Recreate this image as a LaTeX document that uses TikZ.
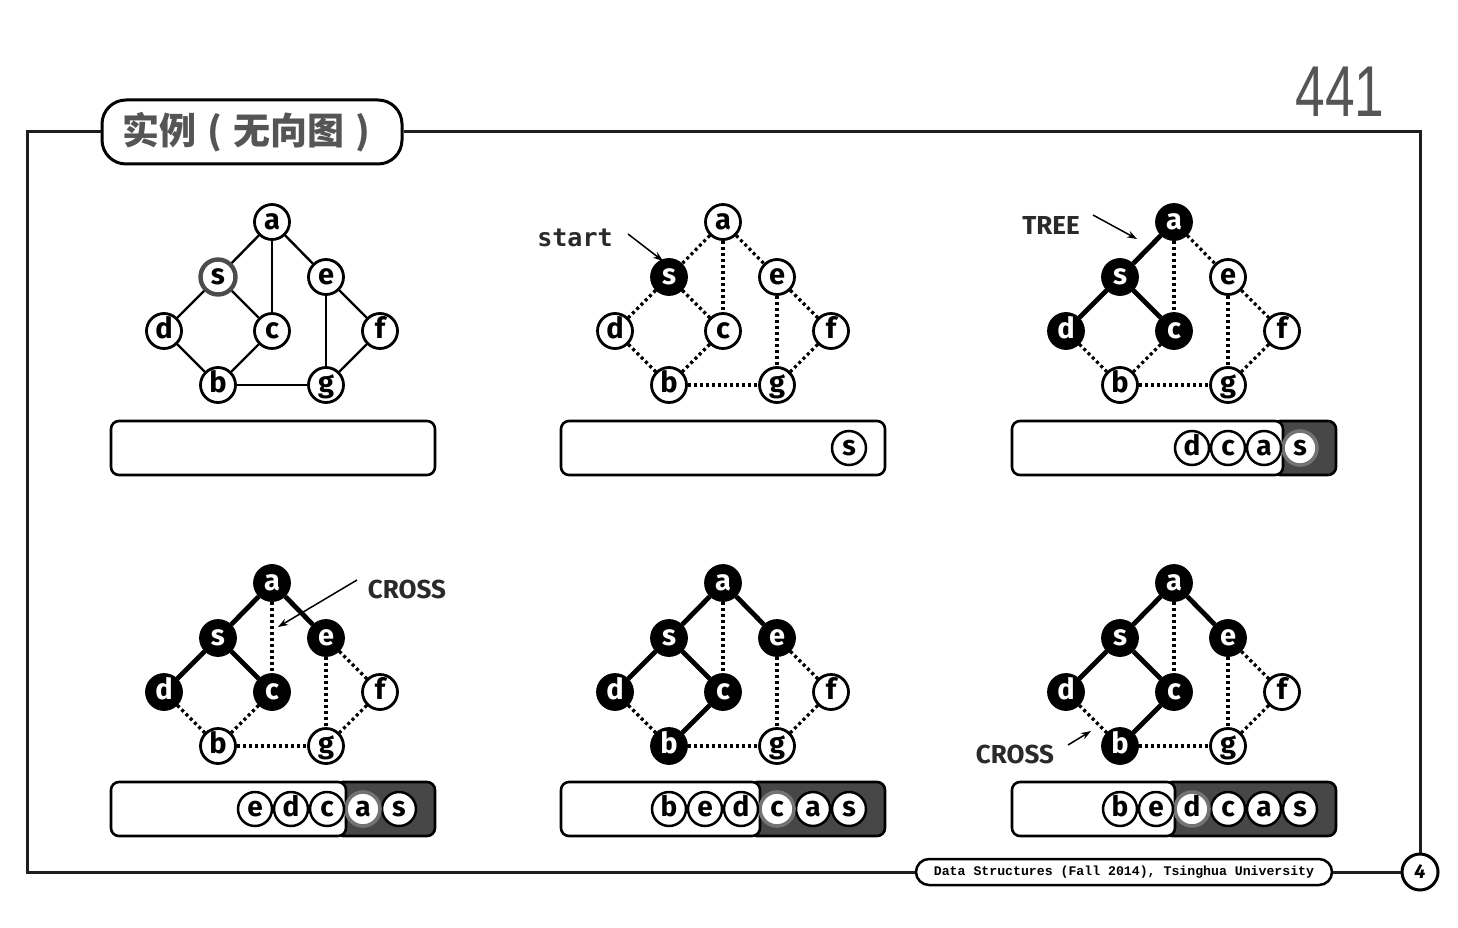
\documentclass[tikz,border=0pt]{standalone}
\usepackage{fontspec}
\setmainfont{Fira Sans}
\newfontfamily\lblfont{Fira Sans}
\newfontfamily\startfont{DejaVu Sans Mono}
\newfontfamily\footfont{Liberation Mono}
\newfontfamily\cjkfont{Noto Sans CJK SC}
\newfontfamily\numfont{Liberation Sans}
\usetikzlibrary{arrows.meta}
\definecolor{dkfill}{HTML}{474747}
\definecolor{titlegray}{HTML}{555555}
\definecolor{framec}{HTML}{1E1E1E}
\definecolor{lblc}{HTML}{2A2A2A}

\tikzset{
 vx/.style={circle, draw=black, line width=2.8pt, minimum size=35pt, inner sep=0pt,
   font=\fontsize{29}{29}\selectfont\bfseries, text height=15pt, text depth=0pt},
 wn/.style={vx, fill=white, text=black},
 bn/.style={vx, fill=black, text=white},
 gn/.style={vx, fill=white, text=black, draw=black!70, line width=4.4pt},
 sol/.style={line width=2.4pt, draw=black},
 trd/.style={line width=4.8pt, draw=black},
 dtd/.style={line width=3.2pt, draw=black, dash pattern=on 3pt off 3pt},
 va/.style=wn, vs/.style=wn, ve/.style=wn, vd/.style=wn,
 vc/.style=wn, vf/.style=wn, vb/.style=wn, vg/.style=wn,
 eas/.style=sol, eac/.style=sol, eae/.style=sol, esd/.style=sol, esc/.style=sol,
 edb/.style=sol, ecb/.style=sol, ebg/.style=sol, eeg/.style=sol, eef/.style=sol, efg/.style=sol,
 alldot/.style={eas/.style=dtd, eac/.style=dtd, eae/.style=dtd, esd/.style=dtd, esc/.style=dtd,
   edb/.style=dtd, ecb/.style=dtd, ebg/.style=dtd, eeg/.style=dtd, eef/.style=dtd, efg/.style=dtd},
 se/.style={circle, draw=black, line width=2.5pt, fill=white, text=black, minimum size=34pt,
   inner sep=0pt, font=\fontsize{28}{28}\selectfont\bfseries, text height=14.5pt, text depth=0pt},
 setop/.style={se, draw=black!55, line width=3.6pt},
 wbox/.style={draw=black, line width=2.6pt, fill=white, rounded corners=8pt},
 dbox/.style={draw=black, line width=2.6pt, fill=dkfill, rounded corners=8pt},
 frame/.style={draw=framec, line width=3pt},
 arr/.style={draw=black, line width=1.5pt, -{Stealth[length=10pt,width=7pt]}},
 lbl/.style={text=lblc, font=\lblfont\bfseries\fontsize{26}{26}\selectfont, inner sep=0pt},
}

\newcommand\graphbody{%
 \node[va] (a) at (272,222) {a};
 \node[vs] (s) at (218,277) {s};
 \node[ve] (e) at (326,277) {e};
 \node[vd] (d) at (164,331) {d};
 \node[vc] (c) at (272,331) {c};
 \node[vf] (f) at (380,331) {f};
 \node[vb] (b) at (218,385) {b};
 \node[vg] (g) at (326,385) {g};
 \draw[eas] (a) -- (s);
 \draw[eac] (a) -- (c);
 \draw[eae] (a) -- (e);
 \draw[esd] (s) -- (d);
 \draw[esc] (s) -- (c);
 \draw[edb] (d) -- (b);
 \draw[ecb] (c) -- (b);
 \draw[ebg] (b) -- (g);
 \draw[eeg] (e) -- (g);
 \draw[eef] (e) -- (f);
 \draw[efg] (f) -- (g);
}

\begin{document}
\begin{tikzpicture}[x=1pt,y=-1pt]
\useasboundingbox (0,0) rectangle (1458,928);

% title, footer, page number
\node[draw=black, line width=3pt, fill=white, rounded corners=24pt, minimum width=300pt,
  minimum height=64pt, inner sep=0pt, text=titlegray, font=\cjkfont\bfseries\fontsize{37}{37}\selectfont]
  (title) at (252,132) {实例\makebox[1em]{(}无向图\makebox[1em]{)}};
\node[draw=black, line width=2.5pt, fill=white, rounded corners=13pt, minimum width=416pt,
  minimum height=26pt, inner sep=0pt, text=black, font=\footfont\bfseries\fontsize{13.2}{13}\selectfont]
  (foot) at (1124,872) {Data Structures (Fall 2014), Tsinghua University};
\node[circle, draw=black, line width=3pt, fill=white, minimum size=36pt, inner sep=0pt,
  font=\lblfont\bfseries\itshape\fontsize{20}{20}\selectfont] (pg) at (1420,872) {4};
\node[text=titlegray, font=\numfont\fontsize{72}{72}\selectfont, inner sep=0pt]
  (num) at (1340,92) {\scalebox{0.74}[1]{441}};

\coordinate (fl1) at (27,132);
\coordinate (fl2) at (27,872);
\coordinate (fr1) at (1420,132);
\draw[frame] (title.west) -- (fl1) -- (fl2) -- (foot.west);
\draw[frame] (foot.east) -- (pg.west);
\draw[frame] (title.east) -- (fr1) -- (pg.north);

% graphs
\begin{scope}[name prefix=p1-, vs/.style=gn]
 \graphbody
\end{scope}
\begin{scope}[shift={(451,0)}, name prefix=p2-, alldot, vs/.style=bn]
 \graphbody
\end{scope}
\begin{scope}[shift={(902,0)}, name prefix=p3-, alldot,
  va/.style=bn, vs/.style=bn, vd/.style=bn, vc/.style=bn,
  eas/.style=trd, esd/.style=trd, esc/.style=trd]
 \graphbody
\end{scope}
\begin{scope}[shift={(0,361)}, name prefix=p4-, alldot,
  va/.style=bn, vs/.style=bn, ve/.style=bn, vd/.style=bn, vc/.style=bn,
  eas/.style=trd, eae/.style=trd, esd/.style=trd, esc/.style=trd]
 \graphbody
\end{scope}
\begin{scope}[shift={(451,361)}, name prefix=p5-, alldot,
  va/.style=bn, vs/.style=bn, ve/.style=bn, vd/.style=bn, vc/.style=bn, vb/.style=bn,
  eas/.style=trd, eae/.style=trd, esd/.style=trd, esc/.style=trd, ecb/.style=trd]
 \graphbody
\end{scope}
\begin{scope}[shift={(902,361)}, name prefix=p6-, alldot,
  va/.style=bn, vs/.style=bn, ve/.style=bn, vd/.style=bn, vc/.style=bn, vb/.style=bn,
  eas/.style=trd, eae/.style=trd, esd/.style=trd, esc/.style=trd, ecb/.style=trd]
 \graphbody
\end{scope}

% stacks
\draw[wbox] (111,421) rectangle (435,475);

\draw[wbox] (561,421) rectangle (885,475);
\node[se] (k2s) at (849,448) {s};

\draw[dbox] (1272,421) rectangle (1336,475);
\draw[wbox] (1012,421) rectangle (1283,475);
\node[setop] (k3s) at (1300,448) {s};
\node[se] (k3a) at (1264,448) {a};
\node[se] (k3c) at (1228,448) {c};
\node[se] (k3d) at (1192,448) {d};

\draw[dbox] (335,782) rectangle (435,836);
\draw[wbox] (111,782) rectangle (346,836);
\node[se] (k4s) at (399,809) {s};
\node[setop] (k4a) at (363,809) {a};
\node[se] (k4c) at (327,809) {c};
\node[se] (k4d) at (291,809) {d};
\node[se] (k4e) at (255,809) {e};

\draw[dbox] (749,782) rectangle (885,836);
\draw[wbox] (561,782) rectangle (760,836);
\node[se] (k5s) at (849,809) {s};
\node[se] (k5a) at (813,809) {a};
\node[setop] (k5c) at (777,809) {c};
\node[se] (k5d) at (741,809) {d};
\node[se] (k5e) at (705,809) {e};
\node[se] (k5b) at (669,809) {b};

\draw[dbox] (1164,782) rectangle (1336,836);
\draw[wbox] (1012,782) rectangle (1175,836);
\node[se] (k6s) at (1300,809) {s};
\node[se] (k6a) at (1264,809) {a};
\node[se] (k6c) at (1228,809) {c};
\node[setop] (k6d) at (1192,809) {d};
\node[se] (k6e) at (1156,809) {e};
\node[se] (k6b) at (1120,809) {b};

% labels and arrows
\node[text=lblc, font=\startfont\bfseries\fontsize{25}{25}\selectfont, inner sep=0pt]
  (startlbl) at (575,238) {start};
\coordinate (st0) at (628,234);
\coordinate (st1) at (663,261);
\draw[arr] (st0) -- (st1);

\node[lbl] (treelbl) at (1051,225) {TREE};
\coordinate (tr0) at (1093,215);
\coordinate (tr1) at (1137,239);
\draw[arr] (tr0) -- (tr1);

\node[lbl] (cross1) at (407,589) {CROSS};
\coordinate (cr0) at (357,580);
\coordinate (cr1) at (278,627);
\draw[arr] (cr0) -- (cr1);

\node[lbl] (cross2) at (1015,754) {CROSS};
\coordinate (cs0) at (1068,745);
\coordinate (cs1) at (1091,731);
\draw[arr] (cs0) -- (cs1);
\end{tikzpicture}
\end{document}
